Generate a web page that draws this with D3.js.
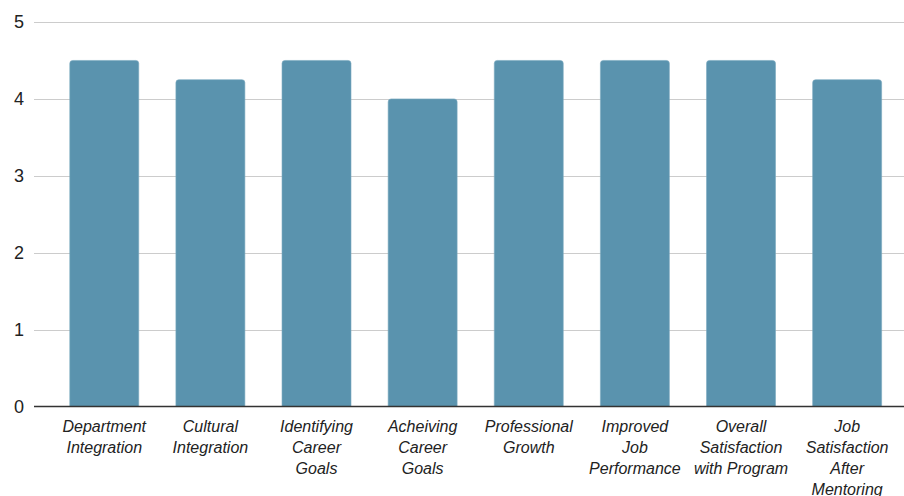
<!DOCTYPE html>
<html>
<head>
<meta charset="utf-8">
<script src="https://cdn.jsdelivr.net/npm/d3@7"></script>
<style>
  html, body { margin: 0; padding: 0; background: #fff; }
  svg { display: block; font-family: "Liberation Sans", Arial, sans-serif; }
</style>
</head>
<body>
<div id="chart"></div>
<script>
// Survey averages per mentoring outcome (0-5 scale)
const categories = [
    'Department\nIntegration',
    'Cultural\nIntegration',
    'Identifying\nCareer\nGoals',
    'Acheiving\nCareer\nGoals',
    'Professional\nGrowth',
    'Improved\nJob\nPerformance',
    'Overall\nSatisfaction\nwith Program',
    'Job\nSatisfaction\nAfter\nMentoring'
];
const scores = [4.5, 4.25, 4.5, 4.0, 4.5, 4.5, 4.5, 4.25];
const yTicks = [0, 1, 2, 3, 4, 5];

const width = 904;
const height = 496;
const gridLeft = 34;
const plotTop = 22;
const plotBottom = 406.5;

const svg = d3.select('#chart')
    .append('svg')
    .attr('width', width)
    .attr('height', height);

const x = d3.scaleBand()
    .domain(categories)
    .range([51.2, 900.2])
    .paddingInner(0.35)
    .paddingOuter(0.175);

const y = d3.scaleLinear()
    .domain([0, 5])
    .range([plotBottom, plotTop]);

// Horizontal gridlines (the zero line is drawn darker below)
svg.append('g')
    .selectAll('line')
    .data(yTicks.filter(d => d !== 0))
    .join('line')
    .attr('x1', gridLeft).attr('x2', width)
    .attr('y1', d => Math.round(y(d)) + 0.5)
    .attr('y2', d => Math.round(y(d)) + 0.5)
    .attr('stroke', '#cccccc')
    .attr('stroke-width', 1);

// Y tick labels
svg.append('g')
    .selectAll('text')
    .data(yTicks)
    .join('text')
    .attr('x', 24)
    .attr('y', d => y(d))
    .attr('dy', '0.36em')
    .attr('text-anchor', 'end')
    .attr('font-size', '18px')
    .attr('fill', '#222')
    .text(d => d);

// Bars with slightly rounded top corners
const r = 3;
function barPath(d, i) {
    const x0 = x(categories[i]);
    const w = x.bandwidth();
    const yt = y(d);
    const yb = y(0);
    return `M ${x0} ${yb} L ${x0} ${yt + r} Q ${x0} ${yt} ${x0 + r} ${yt}` +
        ` L ${x0 + w - r} ${yt} Q ${x0 + w} ${yt} ${x0 + w} ${yt + r} L ${x0 + w} ${yb} Z`;
}

svg.append('g')
    .selectAll('path')
    .data(scores)
    .join('path')
    .attr('d', barPath)
    .attr('fill', '#5a93ae')
    .attr('stroke', '#7aa9bf')
    .attr('stroke-width', 0.6);

// Baseline
svg.append('line')
    .attr('x1', gridLeft).attr('x2', width)
    .attr('y1', plotBottom).attr('y2', plotBottom)
    .attr('stroke', '#333')
    .attr('stroke-width', 1.4);

// Category labels, wrapped onto several lines
const labels = svg.append('g')
    .selectAll('text')
    .data(categories)
    .join('text')
    .attr('x', d => x(d) + x.bandwidth() / 2)
    .attr('y', 431.7)
    .attr('text-anchor', 'middle')
    .attr('font-size', '16px')
    .attr('font-style', 'italic')
    .attr('fill', '#222');

labels.each(function (d) {
    const t = d3.select(this);
    const cx = x(d) + x.bandwidth() / 2;
    d.split('\n').forEach((line, li) => {
        t.append('tspan')
            .attr('x', cx)
            .attr('dy', li === 0 ? 0 : 21)
            .text(line);
    });
});
</script>
</body>
</html>
